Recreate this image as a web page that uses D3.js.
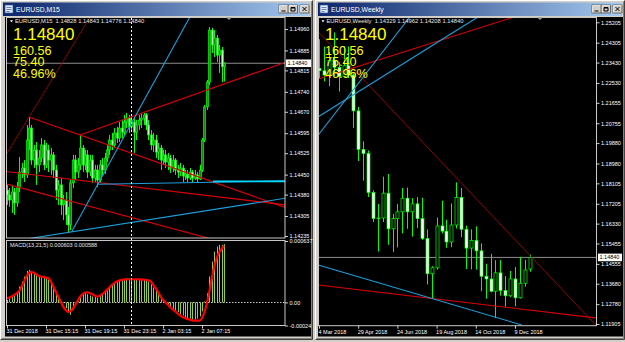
<!DOCTYPE html>
<html>
<head>
<meta charset="utf-8">
<script src="https://cdn.jsdelivr.net/npm/d3@7/dist/d3.min.js"></script>
<style>
html, body { margin: 0; padding: 0; background: #d4d0c8; overflow: hidden; }
svg { display: block; font-family: "Liberation Sans", Arial, sans-serif; }
</style>
</head>
<body>
<svg id="chart" width="625" height="342"></svg>
<script>
// ---- EURUSD M15 (left window) ----
const m15Open = [1.14396,1.14379,1.14361,1.14389,1.14351,1.14403,1.14459,1.14473,1.14449,1.14571,
    1.14613,1.14501,1.14536,1.14484,1.14508,1.14554,1.14484,1.14536,1.14501,1.14519,
    1.14466,1.14396,1.14414,1.14344,1.14361,1.14309,1.14274,1.14421,1.14501,1.14459,
    1.14484,1.14543,1.14484,1.14519,1.14459,1.14501,1.14438,1.14466,1.14431,1.14484,
    1.14466,1.14508,1.14536,1.14571,1.14554,1.14596,1.14578,1.14613,1.14599,1.14634,
    1.14648,1.14617,1.14634,1.14599,1.14624,1.14641,1.14648,1.14659,1.14624,1.14589,
    1.14554,1.14571,1.14529,1.14543,1.14501,1.14519,1.14494,1.14508,1.14473,1.14501,
    1.14466,1.14459,1.14473,1.14445,1.14452,1.14438,1.14459,1.14438,1.14449,1.14435,
    1.14466,1.14571,1.14687,1.14774,1.14956,1.14904,1.14928,1.14869,1.14886,1.14828];
const m15High = [1.14414,1.14403,1.14414,1.14403,1.14424,1.14512,1.14491,1.14501,1.14624,1.14652,
    1.14624,1.14554,1.14564,1.14536,1.14578,1.14571,1.14561,1.14554,1.14543,1.14529,
    1.14484,1.14431,1.14438,1.14379,1.14389,1.14337,1.14431,1.14519,1.14519,1.14508,
    1.14589,1.14554,1.14536,1.14536,1.14519,1.14519,1.14484,1.14484,1.14501,1.14508,
    1.14526,1.14554,1.14589,1.14596,1.14613,1.14617,1.14634,1.14641,1.14659,1.14666,
    1.14659,1.14652,1.14648,1.14641,1.14659,1.14666,1.14666,1.14666,1.14641,1.14606,
    1.14596,1.14589,1.14561,1.14554,1.14536,1.14536,1.14526,1.14519,1.14519,1.14508,
    1.14484,1.14491,1.14484,1.14466,1.14466,1.14473,1.14466,1.14466,1.14459,1.14484,
    1.14578,1.14694,1.14781,1.14967,1.14964,1.14956,1.14939,1.14904,1.14897,1.14843];
const m15Low = [1.14344,1.14337,1.14316,1.14309,1.14337,1.14389,1.14438,1.14424,1.14438,1.14536,
    1.14484,1.14473,1.14414,1.14459,1.14494,1.14466,1.14473,1.14459,1.14449,1.14438,
    1.14361,1.14344,1.14309,1.14291,1.14274,1.14249,1.14256,1.14403,1.14431,1.14438,
    1.14466,1.14459,1.14466,1.14438,1.14445,1.14421,1.14424,1.14407,1.14421,1.14445,
    1.14452,1.14494,1.14519,1.14536,1.14543,1.14561,1.14564,1.14578,1.14589,1.14613,
    1.14596,1.14599,1.14526,1.14571,1.14606,1.14613,1.14624,1.14606,1.14571,1.14536,
    1.14529,1.14508,1.14501,1.14466,1.14484,1.14473,1.14466,1.14456,1.14459,1.14449,
    1.14438,1.14445,1.14424,1.14431,1.14424,1.14431,1.14424,1.14431,1.14421,1.14431,
    1.14459,1.14564,1.14676,1.14764,1.14876,1.14862,1.14844,1.14806,1.14774,1.14776];
const m15Close = [1.14379,1.14361,1.14389,1.14351,1.14403,1.14459,1.14473,1.14449,1.14571,1.14613,
    1.14501,1.14536,1.14484,1.14508,1.14554,1.14484,1.14536,1.14501,1.14519,1.14466,
    1.14396,1.14414,1.14344,1.14361,1.14309,1.14274,1.14421,1.14501,1.14459,1.14484,
    1.14543,1.14484,1.14519,1.14459,1.14501,1.14438,1.14466,1.14431,1.14484,1.14466,
    1.14508,1.14536,1.14571,1.14554,1.14596,1.14578,1.14613,1.14599,1.14634,1.14648,
    1.14617,1.14634,1.14599,1.14624,1.14641,1.14648,1.14659,1.14624,1.14589,1.14554,
    1.14571,1.14529,1.14543,1.14501,1.14519,1.14494,1.14508,1.14473,1.14501,1.14466,
    1.14459,1.14473,1.14445,1.14452,1.14438,1.14459,1.14438,1.14449,1.14435,1.14466,
    1.14571,1.14687,1.14774,1.14956,1.14904,1.14928,1.14869,1.14886,1.14828,1.14840];

// MACD(13,21,5): main (histogram) and signal
const macdMain = [0.000026,0.000043,0.000061,0.000078,0.000112,0.000164,0.000216,0.000268,0.000327,0.000337,
    0.000327,0.000303,0.000285,0.000278,0.000268,0.000257,0.000250,0.000233,0.000199,0.000147,
    0.000095,0.000043,0.000009,-0.000008,-0.000059,-0.000110,-0.000128,-0.000076,-0.000025,0.000026,
    0.000078,0.000085,0.000095,0.000085,0.000071,0.000061,0.000061,0.000050,0.000071,0.000085,
    0.000112,0.000147,0.000164,0.000188,0.000209,0.000223,0.000233,0.000240,0.000244,0.000250,
    0.000250,0.000244,0.000240,0.000240,0.000244,0.000240,0.000233,0.000233,0.000216,0.000188,
    0.000154,0.000119,0.000085,0.000050,0.000016,-0.000008,-0.000032,-0.000052,-0.000066,-0.000086,
    -0.000100,-0.000121,-0.000135,-0.000155,-0.000162,-0.000169,-0.000179,-0.000179,-0.000169,-0.000145,
    -0.000093,0.000009,0.000095,0.000268,0.000423,0.000527,0.000579,0.000596,0.000596,0.000603];
const macdSignal = [0.000043,0.000050,0.000061,0.000078,0.000095,0.000119,0.000164,0.000216,0.000268,0.000303,
    0.000313,0.000310,0.000292,0.000275,0.000268,0.000264,0.000257,0.000250,0.000216,0.000164,
    0.000112,0.000061,0.000009,-0.000042,-0.000076,-0.000100,-0.000093,-0.000066,-0.000025,0.000016,
    0.000061,0.000085,0.000102,0.000105,0.000095,0.000085,0.000071,0.000061,0.000067,0.000085,
    0.000105,0.000130,0.000154,0.000181,0.000199,0.000216,0.000226,0.000233,0.000237,0.000240,
    0.000240,0.000240,0.000240,0.000240,0.000240,0.000237,0.000237,0.000233,0.000230,0.000216,
    0.000181,0.000147,0.000105,0.000061,0.000026,0.000002,-0.000025,-0.000052,-0.000076,-0.000093,
    -0.000114,-0.000135,-0.000152,-0.000162,-0.000173,-0.000179,-0.000186,-0.000189,-0.000189,-0.000189,
    -0.000162,-0.000100,-0.000008,0.000112,0.000250,0.000371,0.000458,0.000520,0.000554,0.000588];

const m15PriceTicks = [1.14960, 1.14885, 1.14815, 1.14740, 1.14670, 1.14595, 1.14525, 1.14450, 1.14380, 1.14305, 1.14235];
const macdTicks = [0.000637, 0, -0.00024];
const macdTickLabels = ["0.000637", "0.00", "-0.00024"];
const m15TimeIdx = [0, 16, 32, 48, 64, 80];
const m15TimeLabels = ["31 Dec 2018", "31 Dec 15:15", "31 Dec 19:15", "31 Dec 23:15", "2 Jan 03:15", "2 Jan 07:15"];
const m15VLineIdx = 51;

// trend lines: [bar1, price1, bar2, price2]
const m15DarkRedLines = [[-2.87, 1.14485, 38.15, 1.15059]];
const m15RedLines = [[9.02, 1.14652, 114.03, 1.14335], [29.94, 1.14589, 114.03, 1.14843],
    [-0.5, 1.14461, 114.03, 1.14344], [-0.5, 1.14418, 91.47, 1.14207]];
const m15BlueLines = [[26.54, 1.14250, 75.06, 1.15003], [-2.87, 1.14210, 114.03, 1.14367],
    [37.24, 1.14416, 114.03, 1.14428]];
const m15CyanLines = [[84.5, 1.14426, 114.03, 1.14426]];

// ---- EURUSD Weekly (right window) ----
const wkOpen = [1.2318,1.2307,1.2288,1.2352,1.2322,1.2282,1.2329,1.2288,1.2130,1.1960,
    1.1942,1.1770,1.1656,1.1658,1.1767,1.1610,1.1655,1.1685,1.1745,1.1685,
    1.1720,1.1655,1.1567,1.1412,1.1438,1.1623,1.1600,1.1552,1.1627,1.1748,
    1.1608,1.1525,1.1559,1.1513,1.1401,1.1389,1.1335,1.1416,1.1338,1.1315,
    1.1389,1.1306,1.1370,1.14329];
const wkHigh = [1.2446,1.2413,1.2388,1.2476,1.2345,1.2414,1.2414,1.2295,1.2147,1.1996,
    1.1955,1.1780,1.1720,1.1840,1.1852,1.1676,1.1720,1.1790,1.1792,1.1745,
    1.1750,1.1747,1.1608,1.1445,1.1660,1.1734,1.1650,1.1722,1.1815,1.1790,
    1.1624,1.1608,1.1621,1.1546,1.1456,1.1500,1.1472,1.1472,1.1402,1.1424,
    1.1442,1.1486,1.1473,1.14962];
const wkLow = [1.2273,1.2260,1.2239,1.2284,1.2215,1.2281,1.2275,1.2055,1.1909,1.1822,
    1.1750,1.1640,1.1510,1.1640,1.1540,1.1508,1.1528,1.1590,1.1610,1.1576,
    1.1613,1.1561,1.1365,1.1301,1.1430,1.1590,1.1526,1.1529,1.1612,1.1573,
    1.1433,1.1431,1.1430,1.1335,1.1302,1.1330,1.1216,1.1316,1.1267,1.1309,
    1.1269,1.1303,1.1355,1.14208];
const wkClose = [1.2307,1.2288,1.2352,1.2322,1.2282,1.2329,1.2288,1.2130,1.1960,1.1942,
    1.1770,1.1656,1.1658,1.1767,1.1610,1.1655,1.1685,1.1745,1.1685,1.1720,
    1.1655,1.1567,1.1412,1.1438,1.1623,1.1600,1.1552,1.1627,1.1748,1.1608,
    1.1525,1.1559,1.1513,1.1401,1.1389,1.1335,1.1416,1.1338,1.1315,1.1389,
    1.1306,1.1370,1.1429,1.14840];
const wkPriceTicks = [1.25205, 1.24305, 1.23430, 1.22530, 1.21655, 1.20755, 1.19880, 1.18980,
    1.18105, 1.17205, 1.16330, 1.15455, 1.14555, 1.13680, 1.12780, 1.11905];
const wkTimeIdx = [0, 8, 16, 24, 32, 40];
const wkTimeLabels = ["4 Mar 2018", "29 Apr 2018", "24 Jun 2018", "19 Aug 2018", "14 Oct 2018", "9 Dec 2018"];
const wkRedLines = [[-0.14, 1.22705, 40, 1.25452], [-0.14, 1.13624, 57.02, 1.12156]];
const wkDarkRedLines = [[-0.14, 1.24777, 56.47, 1.11861]];
const wkBlueLines = [[-0.14, 1.20237, 18.57, 1.25452], [-0.14, 1.21043, 32.51, 1.25452],
    [-0.14, 1.14506, 41.37, 1.11861]];

// shared info
const lastPrice = 1.14840;
const infoLines = ["1.14840", "160.56", "75.40", "46.96%"];
const m15Header = "EURUSD,M15  1.14828 1.14843 1.14776 1.14840";
const wkHeader = "EURUSD,Weekly  1.14329 1.14962 1.14208 1.14840";
const macdHeader = "MACD(13,21,5) 0.000603 0.000588";

const svg = d3.select("#chart");
const defs = svg.append("defs");
const grad = defs.append("linearGradient").attr("id", "titleGrad");
grad.append("stop").attr("offset", "0%").attr("stop-color", "#0a246a");
grad.append("stop").attr("offset", "100%").attr("stop-color", "#a6caf0");

function addClip(id, x, y, w, h) {
    defs.append("clipPath").attr("id", id)
        .append("rect").attr("x", x).attr("y", y).attr("width", w).attr("height", h);
}

function drawWindow(x0, x1, cx0, cx1, btnX, title) {
    const g = svg.append("g");
    g.append("rect").attr("x", x0).attr("y", 0).attr("width", x1 - x0).attr("height", 340).attr("fill", "#d4d0c8");
    g.append("path").attr("d", `M${x0 + 0.5},339.5V0.5H${x1 - 0.5}`).attr("fill", "none").attr("stroke", "#ffffff");
    g.append("path").attr("d", `M${x0 + 0.5},339.5H${x1 - 0.5}V0.5`).attr("fill", "none").attr("stroke", "#404040");
    g.append("path").attr("d", `M${x0 + 1.5},338.5H${x1 - 1.5}V1.5`).attr("fill", "none").attr("stroke", "#808080");
    g.append("rect").attr("x", x0 + 3).attr("y", 2.5).attr("width", x1 - x0 - 6).attr("height", 13.5).attr("fill", "url(#titleGrad)");
    g.append("rect").attr("x", x0 + 5).attr("y", 5).attr("width", 8).attr("height", 8)
        .attr("fill", "#dfe8f6").attr("stroke", "#3a5a9a").attr("stroke-width", 0.7);
    g.append("path").attr("d", `M${x0 + 6.5},7.5h5M${x0 + 6.5},9.5h5M${x0 + 6.5},11.5h3`)
        .attr("stroke", "#3a5a9a").attr("stroke-width", 0.7);
    g.append("text").attr("x", x0 + 16).attr("y", 12.3).attr("fill", "#ffffff")
        .attr("font-size", 6.8).text(title);
    [0, 9.5, 21].forEach((dx, k) => {
        const b = g.append("g").attr("transform", `translate(${btnX + dx},5)`);
        b.append("rect").attr("width", 9).attr("height", 8).attr("fill", "#d4d0c8")
            .attr("stroke", "#404040").attr("stroke-width", 0.7);
        b.append("path").attr("d", "M0.5,7.5V0.5H8.5").attr("fill", "none")
            .attr("stroke", "#ffffff").attr("stroke-width", 0.7);
        const glyph = ["M2.5,6h4", "M2.5,2.5h4v3.5h-4z M2.5,3h4", "M2.5,2l4,4M6.5,2l-4,4"][k];
        b.append("path").attr("d", glyph).attr("fill", "none").attr("stroke", "#000").attr("stroke-width", 1);
    });
    g.append("rect").attr("x", cx0).attr("y", 17).attr("width", cx1 - cx0).attr("height", 319.5).attr("fill", "#000");
}

function styleAxis(g) {
    g.attr("font-family", "'Liberation Sans', Arial, sans-serif").attr("font-size", 5.5);
    g.select(".domain").remove();
    g.selectAll("line").attr("stroke", "#ffffff").attr("stroke-width", 0.8);
    g.selectAll("text").attr("fill", "#ffffff");
}

function drawCandles(g, xs, ys, open, high, low, close, w, bullFill, bearFill) {
    const bars = d3.range(open.length).map(i => ({ i, o: open[i], h: high[i], l: low[i], c: close[i] }));
    g.selectAll("line.wick").data(bars).join("line")
        .attr("class", "wick")
        .attr("x1", d => Math.round(xs(d.i)) + 0.5).attr("x2", d => Math.round(xs(d.i)) + 0.5)
        .attr("y1", d => ys(d.h)).attr("y2", d => ys(d.l))
        .attr("stroke", "#00ff00").attr("stroke-width", 1);
    g.selectAll("rect.body").data(bars).join("rect")
        .attr("class", "body")
        .attr("x", d => Math.round(xs(d.i)) + 0.5 - w / 2)
        .attr("y", d => ys(Math.max(d.o, d.c)))
        .attr("width", w)
        .attr("height", d => Math.max(0.8, Math.abs(ys(d.o) - ys(d.c))))
        .attr("fill", d => d.c >= d.o ? bullFill : bearFill)
        .attr("stroke", "#00ff00").attr("stroke-width", 0.7);
}

function drawLines(g, xs, ys, lines, color, width) {
    g.selectAll(null).data(lines).join("line")
        .attr("x1", d => xs(d[0])).attr("y1", d => ys(d[1]))
        .attr("x2", d => xs(d[2])).attr("y2", d => ys(d[3]))
        .attr("stroke", color).attr("stroke-width", width);
}

function drawInfo(g, x, header, hx) {
    g.append("path").attr("d", `M${hx},20.2h3l-1.5,2.2z`).attr("fill", "#ffffff");
    g.append("text").attr("x", hx + 5).attr("y", 23.4).attr("fill", "#e8e8e8")
        .attr("font-size", 5.8).attr("xml:space", "preserve").text(header);
    const baselines = [39.5, 54.5, 66.2, 77.8];
    g.selectAll(null).data(infoLines).join("text")
        .attr("x", x).attr("y", (d, i) => baselines[i])
        .attr("fill", "#ffff00")
        .attr("font-size", (d, i) => i === 0 ? 17 : 12.6)
        .text(d => d);
}

function priceBox(g, x, y, w) {
    g.append("rect").attr("x", x).attr("y", y - 3.8).attr("width", w).attr("height", 7.6).attr("fill", "#ffffff");
    g.append("text").attr("x", x + 1.5).attr("y", y + 2).attr("fill", "#000").attr("font-size", 5.5)
        .text(d3.format(".5f")(lastPrice));
}

drawWindow(0, 313, 5, 311, 279, "EURUSD,M15");
drawWindow(315, 625, 318, 623, 592, "EURUSD,Weekly");

// ================= left: M15 =================
const mx = d3.scaleLinear().domain([0, 89]).range([7, 224]);
const my = d3.scaleLinear().domain([1.14235, 1.14960]).range([236, 29]);
const macdY = d3.scaleLinear().domain([-0.00024, 0.000637]).range([325.5, 241]);

addClip("clipM15", 6.5, 17.5, 278.5, 220.5);
addClip("clipMacd", 6.5, 240.5, 278.5, 85);

const left = svg.append("g");
const main = left.append("g").attr("clip-path", "url(#clipM15)");

main.append("line").attr("x1", 6).attr("x2", 286)
    .attr("y1", my(lastPrice)).attr("y2", my(lastPrice))
    .attr("stroke", "#8c8c8c").attr("stroke-width", 1);

drawCandles(main.append("g"), mx, my, m15Open, m15High, m15Low, m15Close, 2, "#0b8f0b", "#b6ffb6");

drawLines(main.append("g"), mx, my, m15DarkRedLines, "#9a0000", 0.9);
drawLines(main.append("g"), mx, my, m15RedLines, "#dd0000", 1.1);
drawLines(main.append("g"), mx, my, m15BlueLines, "#1c9fdc", 1.1);
drawLines(main.append("g"), mx, my, m15CyanLines, "#00dcff", 1.8);

// frames
left.append("rect").attr("x", 6.5).attr("y", 17.5).attr("width", 278.5).attr("height", 220.5)
    .attr("fill", "none").attr("stroke", "#c8c8c8").attr("stroke-width", 1);
left.append("rect").attr("x", 6.5).attr("y", 240.5).attr("width", 278.5).attr("height", 85)
    .attr("fill", "none").attr("stroke", "#c8c8c8").attr("stroke-width", 1);

// MACD panel
const macdG = left.append("g").attr("clip-path", "url(#clipMacd)");
macdG.append("line").attr("x1", 7).attr("x2", 285)
    .attr("y1", Math.round(macdY(0)) + 0.5).attr("y2", Math.round(macdY(0)) + 0.5)
    .attr("stroke", "#ffffff").attr("stroke-width", 0.8).attr("stroke-dasharray", "1.5,1.5");
macdG.selectAll("line.hist").data(macdMain).join("line")
    .attr("class", "hist")
    .attr("x1", (d, i) => Math.round(mx(i)) + 0.5).attr("x2", (d, i) => Math.round(mx(i)) + 0.5)
    .attr("y1", macdY(0)).attr("y2", d => macdY(d))
    .attr("stroke", "#9acd32").attr("stroke-width", 1);
macdG.append("path")
    .datum(macdSignal)
    .attr("d", d3.line().x((d, i) => mx(i)).y(d => macdY(d)).curve(d3.curveMonotoneX))
    .attr("fill", "none").attr("stroke", "#ff0000").attr("stroke-width", 2.2);

// period separator
left.append("line").attr("x1", Math.round(mx(m15VLineIdx)) + 0.5).attr("x2", Math.round(mx(m15VLineIdx)) + 0.5)
    .attr("y1", 18).attr("y2", 325)
    .attr("stroke", "#ffffff").attr("stroke-width", 1).attr("stroke-dasharray", "2,2");

// axes
left.append("g").attr("transform", "translate(285,0)")
    .call(d3.axisRight(my).tickValues(m15PriceTicks).tickFormat(d3.format(".5f")).tickSize(3).tickPadding(1.5))
    .call(styleAxis);
left.append("g").attr("transform", "translate(285,0)")
    .call(d3.axisRight(macdY).tickValues(macdTicks).tickFormat((d, i) => macdTickLabels[i]).tickSize(3).tickPadding(1.5))
    .call(styleAxis);
const m15TimeAxis = left.append("g").attr("transform", "translate(0,325.5)")
    .call(d3.axisBottom(mx).tickValues(m15TimeIdx).tickFormat((d, i) => m15TimeLabels[i]).tickSize(3).tickPadding(1))
    .call(styleAxis);
m15TimeAxis.selectAll("text").attr("text-anchor", "start").attr("x", -1);

priceBox(left, 286, my(lastPrice), 25);
left.append("path").attr("d", "M226,17.5h6l-3,2.5z").attr("fill", "#909090");
left.append("text").attr("x", 10).attr("y", 246.8).attr("fill", "#e8e8e8").attr("font-size", 5.5).text(macdHeader);
drawInfo(left, 13, m15Header, 10);

// ================= right: Weekly =================
const wx = d3.scaleLinear().domain([0, 43]).range([319, 529.7]);
const wy = d3.scaleLinear().domain([1.11905, 1.25205]).range([324, 22.3]);
addClip("clipWk", 318.5, 17.5, 278, 308.2);

const right = svg.append("g");
const wk = right.append("g").attr("clip-path", "url(#clipWk)");
wk.append("line").attr("x1", 318).attr("x2", 597)
    .attr("y1", wy(lastPrice)).attr("y2", wy(lastPrice))
    .attr("stroke", "#8c8c8c").attr("stroke-width", 1);
drawCandles(wk.append("g"), wx, wy, wkOpen, wkHigh, wkLow, wkClose, 3, "#000000", "#ffffff");
drawLines(wk.append("g"), wx, wy, wkDarkRedLines, "#a00000", 0.9);
drawLines(wk.append("g"), wx, wy, wkRedLines, "#dd0000", 1.1);
drawLines(wk.append("g"), wx, wy, wkBlueLines, "#1c9fdc", 1.1);

right.append("rect").attr("x", 318.5).attr("y", 17.5).attr("width", 278).attr("height", 308.2)
    .attr("fill", "none").attr("stroke", "#c8c8c8").attr("stroke-width", 1);

right.append("g").attr("transform", "translate(596.5,0)")
    .call(d3.axisRight(wy).tickValues(wkPriceTicks).tickFormat(d3.format(".5f")).tickSize(3).tickPadding(1.5))
    .call(styleAxis);
const wkTimeAxis = right.append("g").attr("transform", "translate(0,325.7)")
    .call(d3.axisBottom(wx).tickValues(wkTimeIdx).tickFormat((d, i) => wkTimeLabels[i]).tickSize(3).tickPadding(1))
    .call(styleAxis);
wkTimeAxis.selectAll("text").attr("text-anchor", "start").attr("x", -1);

priceBox(right, 598, wy(lastPrice), 24);
right.append("path").attr("d", "M537,17.5h6l-3,2.5z").attr("fill", "#909090");
drawInfo(right, 325, wkHeader, 321.5);
</script>
</body>
</html>
